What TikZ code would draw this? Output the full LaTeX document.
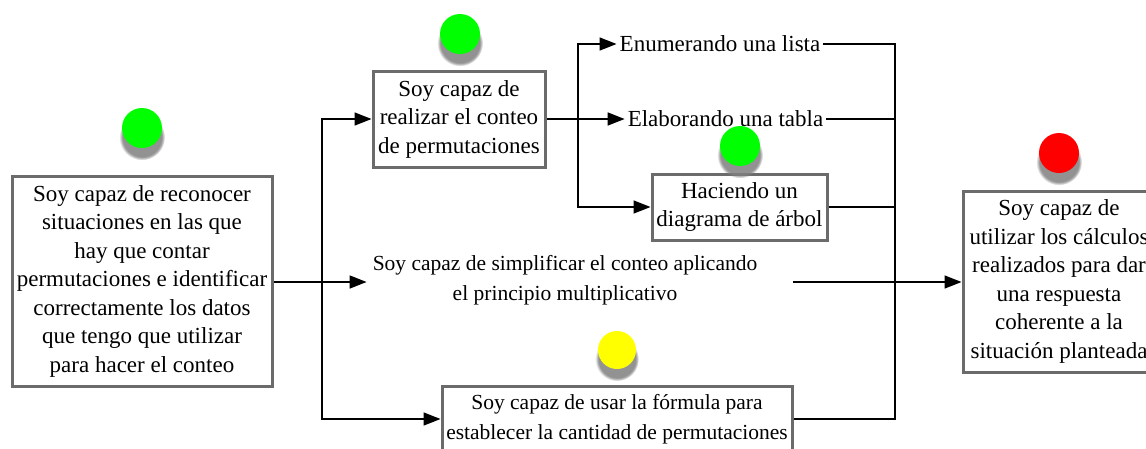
\documentclass[tikz,border=0pt]{standalone}
\usepackage{fontspec}
\setmainfont{Liberation Serif}
\usetikzlibrary{arrows.meta,shadows,calc}
\definecolor{boxgray}{HTML}{6B6B6B}
\begin{document}
\begin{tikzpicture}[x=1pt,y=-1pt,
  txt/.style={font=\fontsize{23}{28.5}\selectfont, align=center},
  small/.style={font=\fontsize{21.5}{29.5}\selectfont},
  box/.style={txt, draw=boxgray, line width=3pt, fill=white, inner sep=0pt},
  plain/.style={txt, inner sep=3pt},
  conn/.style={line width=1.6pt, black},
  arr/.style={conn, -{Triangle[length=17pt,width=13pt]}},
  dot/.style={circle, minimum size=40pt, inner sep=0pt,
    circular drop shadow={shadow xshift=0pt, shadow yshift=-8pt, shadow scale=1.15, opacity=0.85}}
]
\useasboundingbox (0,0) rectangle (1146,448);
\clip (0,0) rectangle (1146,448);
\fill[white] (0,0) rectangle (1146,448);

% nodes
\node[box, minimum width=260pt, minimum height=210pt] (left) at (142,281)
  {Soy capaz de reconocer\\situaciones en las que\\hay que contar\\permutaciones e identificar\\correctamente los datos\\que tengo que utilizar\\para hacer el conteo};
\node[box, minimum width=172pt, minimum height=96pt] (top) at (459,119)
  {Soy capaz de\\realizar el conteo\\de permutaciones};
\node[plain] (lista) at (720,44) {Enumerando una lista};
\node[plain] (tabla) at (725.5,119) {Elaborando una tabla};
\node[box, minimum width=175pt, minimum height=66pt] (hac) at (739.5,207)
  {Haciendo un\\diagrama de árbol};
\node[plain, small, inner sep=6pt] (mid) at (565,280)
  {Soy capaz de simplificar el conteo aplicando\\el principio multiplicativo};
\node[box, small, minimum width=350pt, minimum height=66pt] (bot) at (617,419)
  {Soy capaz de usar la fórmula para\\establecer la cantidad de permutaciones};
\node[box, minimum width=192pt, minimum height=181pt] (right) at (1059,281.5)
  {Soy capaz de\\utilizar los cálculos\\realizados para dar\\una respuesta\\coherente a la\\situación planteada};

% status dots
\node[dot, fill={rgb,255:red,0;green,255;blue,0}] (d1) at (142,128) {};
\node[dot, fill={rgb,255:red,0;green,255;blue,0}] (d2) at (460,34) {};
\node[dot, fill={rgb,255:red,0;green,255;blue,0}] (d3) at (740,146) {};
\node[dot, fill={rgb,255:red,255;green,255;blue,0}, minimum size=38pt] (d4) at (617,350) {};
\node[dot, fill={rgb,255:red,255;green,0;blue,0}] (d5) at (1059,153) {};

% junction coordinates
\coordinate (s1) at (322,282);
\coordinate (s2) at (578,119);
\coordinate (c) at (895,282);
\coordinate (m) at (793,282);

% connectors
\draw[arr] (left.east |- s1) -- (mid.west |- s1);
\draw[arr] (s1) |- (top.west);
\draw[arr] (s1) |- (bot.west);
\draw[arr] (top.east) -- (tabla.west);
\draw[arr] (s2) |- (lista.west);
\draw[arr] (s2) |- (hac.west);
\draw[conn] (lista.east) -| (c);
\draw[conn] (tabla.east) -| (c);
\draw[conn] (hac.east) -| (c);
\draw[conn] (bot.east) -| (c);
\draw[arr] (m) -- (right.west |- m);
\end{tikzpicture}
\end{document}
